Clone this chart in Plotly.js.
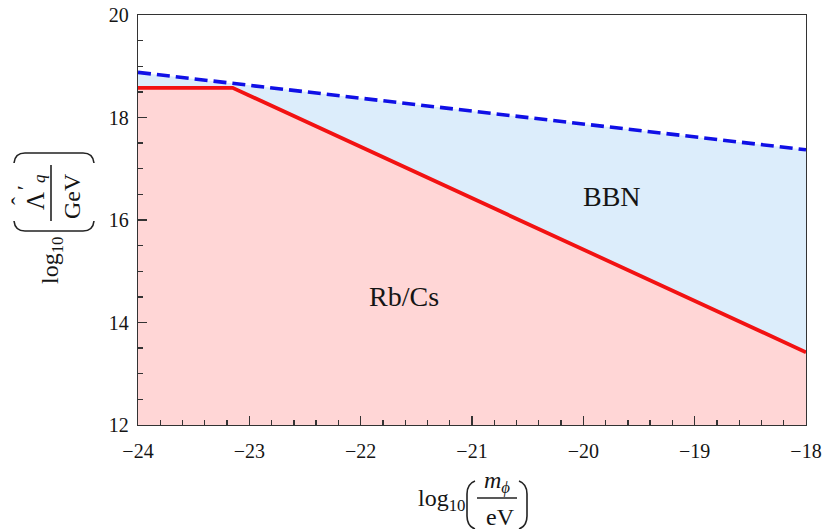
<!DOCTYPE html>
<html>
<head>
<meta charset="utf-8">
<script src="https://cdn.plot.ly/plotly-3.0.1.min.js"></script>
<style>html,body{margin:0;padding:0;background:#fff;}#chart{width:822px;height:529px;}</style>
</head>
<body>
<div id="chart"></div>
<script>
// Data
var massRbCs = [-24, -23.15, -18];
var lambdaRbCs = [18.58, 18.58, 13.42];
var massBBN = [-24, -18];
var lambdaBBN = [18.88, 17.37];
var xTickVals = [-24, -23, -22, -21, -20, -19, -18];
var yTickVals = [12, 14, 16, 18, 20];
var regionLabels = ['BBN', 'Rb/Cs'];
var regionX = [-19.74, -21.61];
var regionY = [16.45, 14.50];

var FONT = 'Liberation Serif, Times New Roman, serif';
var TXT = '#151515';
var W = 822, H = 529, L = 138, R = 16, T = 15, B = 104;
var pw = W - L - R, ph = H - T - B;
function px(x){ return (x - L) / pw; }
function py(y){ return (H - B - y) / ph; }

var traces = [
  {x: massRbCs, y: lambdaRbCs, mode: 'lines', fill: 'tozeroy', fillcolor: '#FFD6D6',
   line: {width: 0, color: 'rgba(0,0,0,0)'}, hoverinfo: 'skip', showlegend: false},
  {x: massBBN, y: lambdaBBN, mode: 'lines', fill: 'tonexty', fillcolor: '#DCEDFB',
   line: {width: 0, color: 'rgba(0,0,0,0)'}, hoverinfo: 'skip', showlegend: false},
  {x: massRbCs, y: lambdaRbCs, mode: 'lines', line: {color: '#F21212', width: 3.8}, showlegend: false},
  {x: massBBN, y: lambdaBBN, mode: 'lines', line: {color: '#1010E6', width: 3.6, dash: '13px,6px'}, showlegend: false}
];

var annotations = [];
for (var i = 0; i < regionLabels.length; i++) {
  annotations.push({x: regionX[i], y: regionY[i], xref: 'x', yref: 'y', text: regionLabels[i],
    showarrow: false, font: {family: FONT, size: 28, color: TXT}});
}
function pa(text, x, y, size, angle){
  return {x: px(x), y: py(y), xref: 'paper', yref: 'paper', text: text, showarrow: false,
    xanchor: 'center', yanchor: 'middle', textangle: angle || 0,
    font: {family: FONT, size: size, color: TXT}};
}
// y-axis title pieces (rotated)
annotations.push(pa('log<sub>10</sub>', 52, 261, 24, -90));
annotations.push(pa('Λ', 36, 201, 25, -90));
annotations.push(pa('ˆ', 20, 201, 24, -90));
annotations.push(pa('′', 24, 187, 22, -90));
annotations.push(pa('<i>q</i>', 39, 179, 17, -90));
annotations.push(pa('GeV', 72, 196, 24, -90));
// x-axis title pieces
annotations.push(pa('log<sub>10</sub>', 441, 500, 24, 0));
annotations.push(pa('<i>m</i><sub><i>ϕ</i></sub>', 497, 482, 24, 0));
annotations.push(pa('eV', 500, 517, 24, 0));

function P(x, y){ return px(x) + ',' + py(y); }
var lineStyle = {color: '#222', width: 1.6};
var shapes = [
  {type: 'line', xref: 'paper', yref: 'paper', x0: px(51), x1: px(51), y0: py(165), y1: py(221), line: lineStyle},
  {type: 'path', xref: 'paper', yref: 'paper', line: lineStyle,
   path: 'M' + P(14, 163) + ' Q' + P(15, 153) + ' ' + P(25, 153) + ' L' + P(83, 153) + ' Q' + P(93, 153) + ' ' + P(94, 163)},
  {type: 'path', xref: 'paper', yref: 'paper', line: lineStyle,
   path: 'M' + P(14, 221) + ' Q' + P(15, 231) + ' ' + P(25, 231) + ' L' + P(83, 231) + ' Q' + P(93, 231) + ' ' + P(94, 221)},
  {type: 'line', xref: 'paper', yref: 'paper', x0: px(477), x1: px(517), y0: py(498), y1: py(498), line: lineStyle},
  {type: 'path', xref: 'paper', yref: 'paper', line: lineStyle,
   path: 'M' + P(475, 481) + ' Q' + P(467, 484) + ' ' + P(467, 494) + ' L' + P(467, 516) + ' Q' + P(467, 526) + ' ' + P(475, 529)},
  {type: 'path', xref: 'paper', yref: 'paper', line: lineStyle,
   path: 'M' + P(519, 481) + ' Q' + P(527, 484) + ' ' + P(527, 494) + ' L' + P(527, 516) + ' Q' + P(527, 526) + ' ' + P(519, 529)}
];

var axisCommon = {
  showgrid: false, zeroline: false, showline: true, mirror: true, linecolor: '#333', linewidth: 1.3,
  ticks: 'inside', ticklen: 9, tickwidth: 1.3, tickcolor: '#333',
  tickfont: {family: FONT, size: 20, color: TXT}
};
var layout = {
  width: W, height: H,
  margin: {l: L, r: R, t: T, b: B},
  paper_bgcolor: '#fff', plot_bgcolor: '#fff',
  showlegend: false,
  xaxis: Object.assign({}, axisCommon, {
    range: [-24, -18], tickvals: xTickVals, ticktext: xTickVals.map(function(v){ return '\u2212' + Math.abs(v); }),
    ticklabelstandoff: 8,
    minor: {dtick: 0.2, ticks: 'inside', ticklen: 5, tickwidth: 1.3, tickcolor: '#333', showgrid: false}
  }),
  yaxis: Object.assign({}, axisCommon, {
    range: [12, 20], tickvals: yTickVals, ticklabelstandoff: 4,
    minor: {dtick: 0.5, ticks: 'inside', ticklen: 5, tickwidth: 1.3, tickcolor: '#333', showgrid: false}
  }),
  annotations: annotations,
  shapes: shapes
};
Plotly.newPlot('chart', traces, layout, {displayModeBar: false, staticPlot: true});
</script>
</body>
</html>
